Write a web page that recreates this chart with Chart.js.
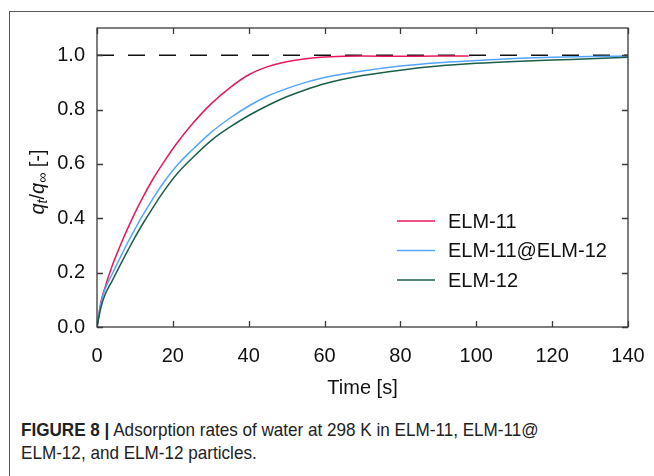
<!doctype html>
<html lang="en">
<head>
  <meta charset="utf-8">
  <title>Figure 8: Adsorption rates of water</title>
  <style>
    * {
      margin: 0;
      padding: 0;
    }
    body {
      width: 654px;
      height: 476px;
      background: white;
      position: relative;
      overflow: hidden;
      font-family: "Liberation Sans", Arial, sans-serif;
    }
    .card {
      position: absolute;
      left: 9px;
      top: 11px;
      width: 700px;
      height: 500px;
      border-top: 1.5px solid #555;
      border-left: 1.5px solid #555;
    }
    .chartBox {
      position: absolute;
      left: 0;
      top: 0;
      width: 654px;
      height: 400px;
    }
    .caption {
      position: absolute;
      left: 21px;
      top: 418px;
      width: 700px;
      font-family: "Liberation Sans", Arial, sans-serif;
      font-size: 19px;
      line-height: 23px;
      color: #222;
      transform: scaleX(0.9);
      transform-origin: 0 0;
    }
  </style>
</head>
<body>
  <div class="card"></div>
  <div class="chartBox">
    <canvas id="myChart" width="654" height="400"></canvas>
  </div>
  <div class="caption"><b>FIGURE 8 |</b> Adsorption rates of water at 298 K in ELM-11, ELM-11@<br>ELM-12, and ELM-12 particles.</div>

  <script src="https://cdn.jsdelivr.net/npm/chart.js"></script>
  <script>
    // values (time in s, q_t/q_inf)
    const timeElm11 = [0, 1, 2, 4, 6, 8, 10, 12, 15, 18, 21, 25, 30, 35, 40, 45, 50, 55, 60, 70, 80, 90, 98];
    const elm11 = [0, 0.09, 0.14, 0.225, 0.295, 0.36, 0.42, 0.475, 0.55, 0.615, 0.675, 0.745, 0.82, 0.88, 0.928, 0.958, 0.976, 0.987, 0.993, 0.997, 0.996, 0.997, 0.997];

    const timeShared = [0, 1, 2, 4, 6, 8, 10, 12, 15, 18, 21, 25, 30, 35, 40, 45, 50, 55, 60, 70, 80, 90, 100, 110, 120, 130, 140];
    const elm11at12 = [0, 0.085, 0.135, 0.195, 0.252, 0.308, 0.36, 0.41, 0.478, 0.54, 0.593, 0.65, 0.715, 0.768, 0.813, 0.85, 0.877, 0.9, 0.918, 0.942, 0.96, 0.972, 0.98, 0.988, 0.992, 0.995, 0.997];
    const elm12 = [0, 0.07, 0.115, 0.17, 0.225, 0.278, 0.33, 0.378, 0.445, 0.507, 0.562, 0.62, 0.685, 0.735, 0.778, 0.815, 0.847, 0.873, 0.895, 0.925, 0.945, 0.96, 0.97, 0.977, 0.982, 0.987, 0.992];

    const refTime = [0, 140];
    const refLine = [1, 1];

    const seriesNames = ['ELM-11', 'ELM-11@ELM-12', 'ELM-12'];
    const seriesColors = ['#e6195f', '#55a6fb', '#1b5e4b'];
    const xTicks = [0, 20, 40, 60, 80, 100, 120, 140];
    const yTicks = [0, 0.2, 0.4, 0.6, 0.8, 1.0];

    const toPoints = (xs, ys) => xs.map((x, i) => ({ x: x, y: ys[i] }));

    const FONT = '"Liberation Sans", Arial, sans-serif';

    // frame, inward ticks on four sides, y title and legend
    const framePlugin = {
      id: 'frame',
      afterDraw(chart) {
        const ctx = chart.ctx;
        const a = chart.chartArea;
        const xs = chart.scales.x;
        const ys = chart.scales.y;
        ctx.save();
        ctx.strokeStyle = '#3a3a3a';
        ctx.lineWidth = 1.3;
        ctx.strokeRect(a.left, a.top, a.right - a.left, a.bottom - a.top);
        const len = 6;
        ctx.beginPath();
        xTicks.forEach(v => {
          const px = Math.round(xs.getPixelForValue(v)) + 0.5;
          ctx.moveTo(px, a.bottom); ctx.lineTo(px, a.bottom - len);
          ctx.moveTo(px, a.top); ctx.lineTo(px, a.top + len);
        });
        yTicks.forEach(v => {
          const py = Math.round(ys.getPixelForValue(v)) + 0.5;
          ctx.moveTo(a.left, py); ctx.lineTo(a.left + len, py);
          ctx.moveTo(a.right, py); ctx.lineTo(a.right - len, py);
        });
        ctx.stroke();

        // y title: q_t / q_inf [-]
        const big = '20px ' + FONT;
        const bigIt = 'italic 20px ' + FONT;
        const small = 'italic 14px ' + FONT;
        const parts = [
          { t: 'q', f: bigIt, dy: 0 },
          { t: 't', f: small, dy: 5 },
          { t: '/', f: big, dy: 0 },
          { t: 'q', f: bigIt, dy: 0 },
          { t: '\u221E', f: small, dy: 5 },
          { t: ' [-]', f: big, dy: 0 }
        ];
        let total = 0;
        parts.forEach(p => { ctx.font = p.f; p.w = ctx.measureText(p.t).width; total += p.w; });
        ctx.translate(38, 182);
        ctx.rotate(-Math.PI / 2);
        ctx.fillStyle = '#111';
        ctx.textBaseline = 'middle';
        let cx = -total / 2;
        parts.forEach(p => {
          ctx.font = p.f;
          ctx.fillText(p.t, cx, p.dy);
          cx += p.w;
        });
        ctx.restore();

        // legend inside the plot
        ctx.save();
        ctx.font = '20px ' + FONT;
        ctx.textBaseline = 'middle';
        seriesNames.forEach((name, i) => {
          const y = 221 + i * 29.5;
          ctx.strokeStyle = seriesColors[i];
          ctx.lineWidth = 1.6;
          ctx.beginPath();
          ctx.moveTo(397, y); ctx.lineTo(435, y);
          ctx.stroke();
          ctx.fillStyle = '#111';
          ctx.fillText(name, 448, y + 1);
        });
        ctx.restore();
      }
    };

    const data = {
      datasets: [
        {
          label: seriesNames[2],
          data: toPoints(timeShared, elm12),
          borderColor: seriesColors[2],
          borderWidth: 1.5,
          pointRadius: 0,
          cubicInterpolationMode: 'monotone'
        },
        {
          label: seriesNames[1],
          data: toPoints(timeShared, elm11at12),
          borderColor: seriesColors[1],
          borderWidth: 1.5,
          pointRadius: 0,
          cubicInterpolationMode: 'monotone'
        },
        {
          label: seriesNames[0],
          data: toPoints(timeElm11, elm11),
          borderColor: seriesColors[0],
          borderWidth: 1.5,
          pointRadius: 0,
          cubicInterpolationMode: 'monotone'
        },
        {
          label: 'q = 1',
          data: toPoints(refTime, refLine),
          borderColor: '#111',
          borderWidth: 1.6,
          borderDash: [17, 14],
          pointRadius: 0
        }
      ]
    };

    const config = {
      type: 'line',
      data,
      options: {
        responsive: false,
        animation: false,
        layout: {
          padding: { left: 0, top: 28, right: 26, bottom: 0 }
        },
        scales: {
          x: {
            type: 'linear',
            min: 0,
            max: 140,
            grid: { display: false },
            border: { display: false },
            afterBuildTicks: (scale) => { scale.ticks = xTicks.map(v => ({ value: v })); },
            afterFit: (scale) => { scale.height = 73; },
            ticks: {
              color: '#111',
              padding: 9,
              maxRotation: 0,
              font: { size: 20, family: FONT }
            },
            title: {
              display: true,
              text: 'Time [s]',
              color: '#111',
              padding: { top: 3, bottom: 0 },
              font: { size: 20, family: FONT }
            }
          },
          y: {
            type: 'linear',
            min: 0,
            max: 1.1,
            grid: { display: false, drawTicks: false },
            border: { display: false },
            afterBuildTicks: (scale) => { scale.ticks = yTicks.map(v => ({ value: v })); },
            afterFit: (scale) => { scale.width = 97; },
            ticks: {
              color: '#111',
              padding: 12,
              font: { size: 20, family: FONT },
              callback: (v) => Number(v).toFixed(1)
            }
          }
        },
        plugins: {
          legend: { display: false },
          tooltip: { enabled: false }
        }
      },
      plugins: [framePlugin]
    };

    const myChart = new Chart(document.getElementById('myChart'), config);
  </script>
</body>
</html>
